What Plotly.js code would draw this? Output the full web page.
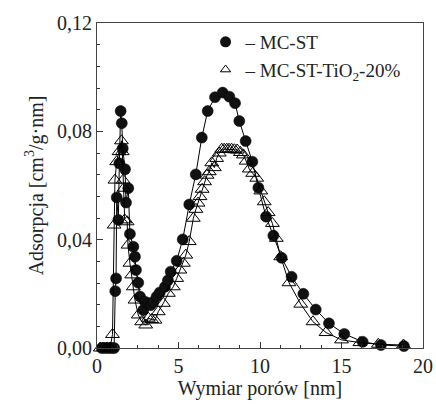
<!DOCTYPE html>
<html><head><meta charset="utf-8">
<script src="https://cdn.plot.ly/plotly-3.0.1.min.js"></script>
<style>html,body{margin:0;padding:0;background:#fff}#c{width:436px;height:406px}</style>
</head><body><div id="c"></div>
<script>
// MC-ST (filled circles)
const xMC = [0.3,0.5,0.7,0.9,1.05,1.12,1.17,1.21,1.31,1.37,1.45,1.52,1.58,1.72,1.78,1.92,2.02,2.23,2.33,2.39,2.53,2.64,2.84,2.94,3.15,3.3,3.45,3.66,3.85,4.17,4.35,4.52,4.89,5.26,5.66,6.06,6.43,6.79,7.24,7.71,8.12,8.47,8.73,9.12,9.53,9.9,10.37,10.82,11.33,11.94,12.66,13.42,14.23,15.17,16.3,17.42,18.83];
const yMC = [0,0,0,0,0,0.021,0.0257,0.0556,0.0473,0.0682,0.0875,0.083,0.0737,0.066,0.0537,0.059,0.0421,0.0374,0.0337,0.0288,0.0241,0.019,0.014,0.0171,0.0165,0.0158,0.017,0.019,0.0205,0.0226,0.025,0.0282,0.0322,0.0401,0.053,0.0641,0.0777,0.0875,0.0926,0.0943,0.0928,0.0904,0.0838,0.0764,0.0688,0.0592,0.0485,0.0415,0.0333,0.0263,0.0200,0.0142,0.0091,0.0052,0.0023,0.0011,0.0007];
// MC-ST-TiO2-20% (open triangles)
const xTi = [0.2,0.4,0.6,0.8,0.95,1.05,1.1,1.21,1.35,1.5,1.55,1.6,1.65,1.7,1.85,1.9,2.02,2.13,2.23,2.33,2.53,2.74,2.99,3.15,3.35,3.56,3.76,4.07,4.38,4.68,4.89,5.09,5.3,5.45,5.66,5.91,6.07,6.2,6.32,6.45,6.6,6.75,6.89,7.04,7.2,7.34,7.5,7.65,7.8,7.96,8.1,8.26,8.43,8.6,8.8,8.98,9.15,9.34,9.55,9.8,10.05,10.26,10.5,10.76,11.0,11.27,11.78,12.5,13.25,14.05,15.0,16.13,17.26,18.8];
const yTi = [0,0,0,0,0.005,0.0454,0.062,0.0688,0.0725,0.0765,0.0725,0.062,0.059,0.0473,0.0466,0.038,0.0313,0.027,0.0226,0.0177,0.0122,0.0097,0.0085,0.011,0.0105,0.0103,0.0134,0.0165,0.0202,0.0226,0.0257,0.0288,0.0313,0.0343,0.0393,0.0479,0.0512,0.0535,0.0559,0.0586,0.0614,0.0638,0.0651,0.0684,0.0666,0.07,0.072,0.0734,0.0734,0.0734,0.0734,0.0734,0.0732,0.0731,0.0722,0.0713,0.069,0.0661,0.0645,0.0627,0.058,0.054,0.05,0.046,0.0405,0.0337,0.0241,0.0162,0.0097,0.0057,0.003,0.002,0.0014,0.0011];
const xTicks = [0,5,10,15,20];
const yTicks = [0,0.04,0.08,0.12];
const yTickText = ['0,00','0,04','0,08','0,12'];
const names = ['– MC-ST','– MC-ST-TiO<sub>2</sub>-20%'];

const font = 'Liberation Serif, Times New Roman, serif';
const traces = [
  {x:xMC,y:yMC,mode:'lines+markers',showlegend:false,cliponaxis:false,
   line:{color:'#000',width:1},marker:{symbol:'circle',size:11,color:'#111',line:{color:'#000',width:0.5}}},
  {x:xTi,y:yTi,mode:'lines+markers',showlegend:false,cliponaxis:false,
   line:{color:'#000',width:1},marker:{symbol:'triangle-up-open',size:12,color:'#000',line:{width:1}}},
  {x:[null],y:[null],mode:'markers',name:names[0],marker:{symbol:'circle',size:11,color:'#111'}},
  {x:[null],y:[null],mode:'markers',name:names[1],marker:{symbol:'triangle-up-open',size:9,color:'#000'}}
];
const layout = {
  width:436,height:406,
  margin:{l:97,r:13,t:23,b:58},
  paper_bgcolor:'#fff',plot_bgcolor:'#fff',
  font:{family:font,size:19,color:'#222'},
  showlegend:true,
  legend:{x:0.333,y:1.0,xanchor:'left',yanchor:'top',bgcolor:'rgba(0,0,0,0)',font:{family:font,size:19,color:'#222'},itemwidth:30,tracegroupgap:0},
  xaxis:{range:[0,20],tickvals:xTicks,ticks:'inside',ticklen:6,tickwidth:1,tickcolor:'#333',
    showline:true,linecolor:'#444',linewidth:1,mirror:true,showgrid:false,zeroline:false,
    minor:{dtick:1.25,ticks:'inside',ticklen:3,tickcolor:'#333',showgrid:false},
    tickfont:{family:font,size:20,color:'#222'},
    title:{text:'Wymiar porów [nm]',font:{family:font,size:20,color:'#222'},standoff:2}},
  yaxis:{range:[0,0.12],tickvals:yTicks,ticktext:yTickText,ticks:'inside',ticklen:6,tickwidth:1,tickcolor:'#333',
    showline:true,linecolor:'#444',linewidth:1,mirror:true,showgrid:false,zeroline:false,
    minor:{dtick:0.008,ticks:'inside',ticklen:3,tickcolor:'#333',showgrid:false},
    tickfont:{family:font,size:20,color:'#222'},
    title:{text:'Adsorpcja [cm<sup>3</sup>/g·nm]',font:{family:font,size:20,color:'#222'},standoff:8}}
};
Plotly.newPlot('c',traces,layout,{displayModeBar:false,staticPlot:true});
</script></body></html>
